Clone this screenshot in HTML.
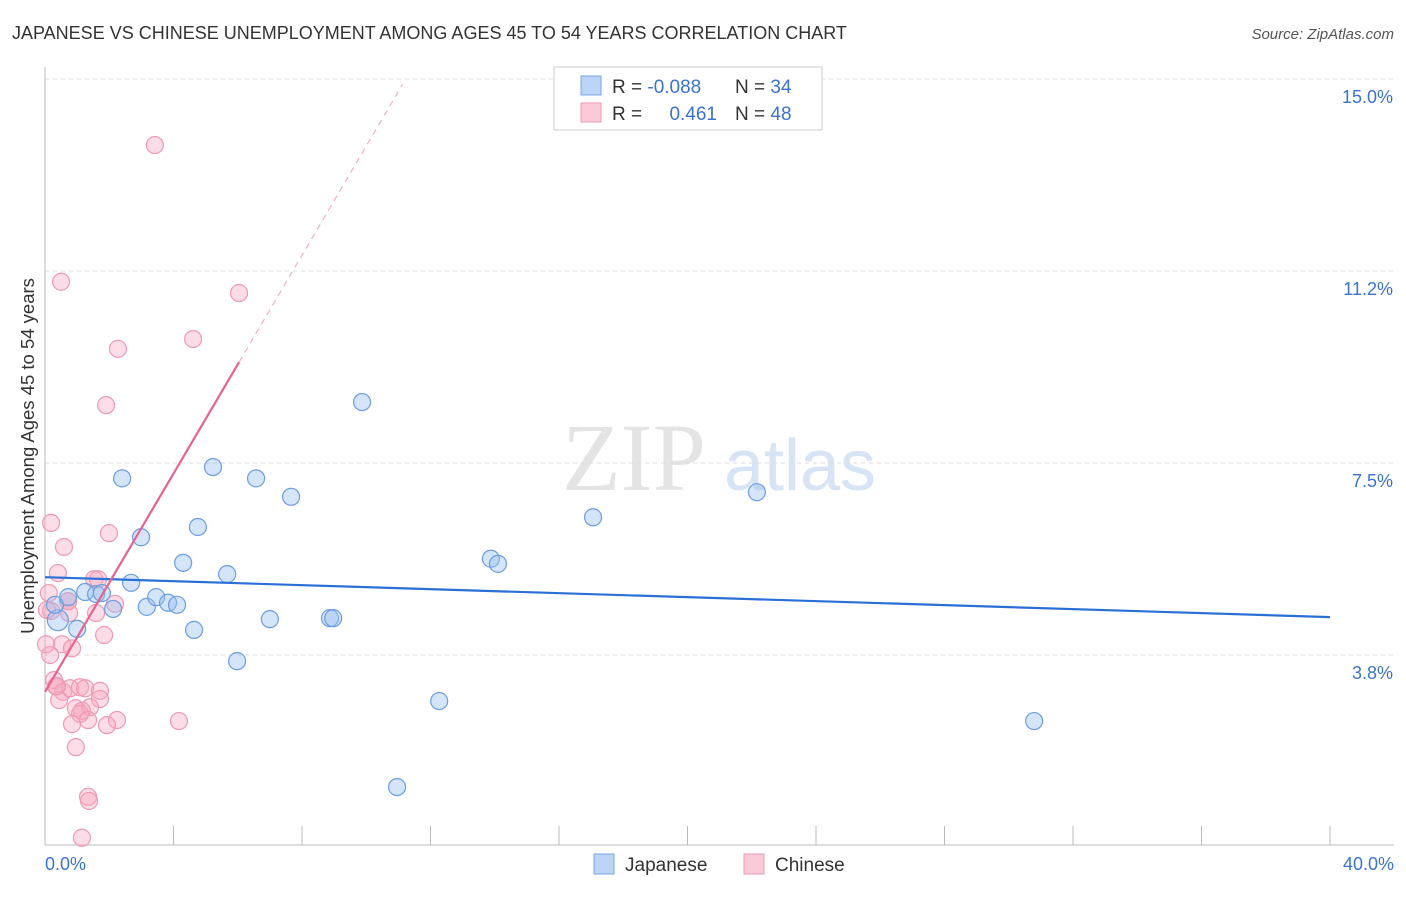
<!DOCTYPE html>
<html><head><meta charset="utf-8"><style>
body{margin:0;background:#fff;font-family:"Liberation Sans",sans-serif}
svg text{font-family:"Liberation Sans",sans-serif}
</style></head><body>
<svg id="c" width="1406" height="892" xmlns="http://www.w3.org/2000/svg">
<text x="12" y="39" font-size="18" fill="#333">JAPANESE VS CHINESE UNEMPLOYMENT AMONG AGES 45 TO 54 YEARS CORRELATION CHART</text>
<text x="1394" y="39" font-size="15" fill="#555" font-style="italic" text-anchor="end">Source: ZipAtlas.com</text>
<text x="634" y="490" font-size="96" fill="#e4e4e4" text-anchor="middle" style="font-family:'Liberation Serif',serif">ZIP</text>
<text x="800" y="490" font-size="72" fill="#d6e4f5" text-anchor="middle">atlas</text>
<g id="grid"></g><g id="axes"></g><g id="pts"></g><g id="trend"></g>
<text transform="translate(34,456) rotate(-90)" font-size="18.5" fill="#333" text-anchor="middle">Unemployment Among Ages 45 to 54 years</text>
<text x="45" y="870" font-size="18" fill="#3b73cc">0.0%</text>
<text x="1394" y="870" font-size="18" fill="#3b73cc" text-anchor="end">40.0%</text>
<g>
<rect x="554" y="67" width="268" height="63" fill="#fff" stroke="#ccc"/>
<rect x="581" y="76" width="20" height="19" fill="#bcd4f5" stroke="#7aa6e6"/>
<rect x="581" y="103" width="20" height="19" fill="#fbcad8" stroke="#ee9ab4"/>
<text x="612" y="93" font-size="19" fill="#333">R = <tspan fill="#3b73cc">-0.088</tspan></text>
<text x="735" y="93" font-size="19" fill="#333">N = <tspan fill="#3b73cc">34</tspan></text>
<text x="612" y="120" font-size="19" fill="#333">R = </text>
<text x="717" y="120" font-size="19" fill="#3b73cc" text-anchor="end">0.461</text>
<text x="735" y="120" font-size="19" fill="#333">N = <tspan fill="#3b73cc">48</tspan></text>
</g>
<g>
<rect x="594" y="854" width="20" height="20" fill="#bcd4f5" stroke="#7aa6e6"/>
<text x="625" y="871" font-size="19" fill="#333">Japanese</text>
<rect x="744" y="854" width="20" height="20" fill="#fbcad8" stroke="#ee9ab4"/>
<text x="775" y="871" font-size="19" fill="#333">Chinese</text>
</g>
</svg>
<script>
const yTicks=[15.0,11.25,7.5,3.75];
const yTickLabels=["15.0%","11.2%","7.5%","3.8%"];
const japX=[0.4,0.31,0.72,1.0,1.25,1.59,1.77,2.12,2.4,2.68,2.99,3.17,3.46,3.83,4.11,4.3,4.64,4.76,5.23,5.67,5.98,6.57,7.0,7.66,8.87,8.97,9.87,10.96,12.27,13.88,14.1,17.06,22.16,30.79];
const japY=[4.43,4.73,4.88,4.26,4.98,4.94,4.96,4.65,7.2,5.16,6.05,4.69,4.88,4.77,4.73,5.55,4.24,6.25,7.42,5.33,3.63,7.2,4.45,6.84,4.47,4.47,8.69,1.17,2.85,5.63,5.53,6.44,6.93,2.46];
const chiX=[3.42,0.5,6.04,4.61,2.27,1.9,0.19,0.59,1.99,0.4,1.53,1.65,0.12,0.72,2.18,1.59,0.19,0.75,1.84,0.53,0.84,0.16,0.28,0.34,0.56,0.78,1.09,1.25,1.71,0.44,1.71,0.96,1.4,1.15,1.09,1.34,0.84,2.24,1.93,4.17,0.96,1.34,1.37,1.15,0.06,0.03,0.72,0.37];
const chiY=[13.71,11.04,10.82,9.92,9.73,8.63,6.33,5.86,6.13,5.35,5.23,5.23,4.96,4.8,4.75,4.57,4.61,4.57,4.14,3.96,3.88,3.75,3.26,3.14,3.03,3.1,3.12,3.1,3.05,2.87,2.89,2.71,2.73,2.66,2.6,2.48,2.4,2.48,2.38,2.46,1.95,0.98,0.9,0.18,4.63,3.96,4.8,3.14];
const japTrend=[5.27,-0.0195];
const chiTrend=[3.03,1.066];
const X=v=>45+v*32.125, Y=v=>847-v*51.2;
const NS="http://www.w3.org/2000/svg";
function mk(t,a,p){const e=document.createElementNS(NS,t);for(const k in a)e.setAttribute(k,a[k]);document.getElementById(p).appendChild(e);return e;}
yTicks.forEach((t,i)=>{
 const l=mk('line',{x1:45,x2:1394,y1:Y(t),y2:Y(t),stroke:'#ddd','stroke-dasharray':'4,4'},'grid');
 
 
 const tx=mk('text',{x:1393,y:Y(t)+24,'font-size':18,fill:'#3b73cc','text-anchor':'end'},'grid');
 tx.textContent=yTickLabels[i];
 
 
});
let a=mk('line',{x1:45,x2:45,y1:67,y2:845,stroke:'#bbb'},'axes');

a=mk('line',{x1:45,x2:1394,y1:845,y2:845,stroke:'#bbb'},'axes');

for(let i=1;i<=10;i++){const t=mk('line',{x1:X(i*4),x2:X(i*4),y1:826,y2:845,stroke:'#bbb'},'axes');
 
 }
chiX.forEach((x,i)=>{const c=mk('circle',{cx:X(x),cy:Y(chiY[i]),r:8.5,fill:'rgba(247,168,192,0.4)',stroke:'#ee9ab4','stroke-width':1.2},'pts');
 
 });
japX.forEach((x,i)=>{const c=mk('circle',{cx:X(x),cy:Y(japY[i]),r:i==0?10.5:8.5,fill:'rgba(150,190,240,0.4)',stroke:'#6b9de0','stroke-width':1.2},'pts');
 
 });
let t=mk('line',{x1:X(0),y1:Y(japTrend[0]),x2:X(40),y2:Y(japTrend[0]+40*japTrend[1]),stroke:'#2a6fd6','stroke-width':2.2},'trend');

t=mk('line',{x1:X(0),y1:Y(chiTrend[0]),x2:X(6.04),y2:Y(chiTrend[0]+6.04*chiTrend[1]),stroke:'#e8628f','stroke-width':2.2},'trend');

const xe=(14.9-chiTrend[0])/chiTrend[1];
t=mk('line',{x1:X(6.04),y1:Y(chiTrend[0]+6.04*chiTrend[1]),x2:X(xe),y2:Y(14.9),stroke:'#eeb0c4','stroke-width':1.2,'stroke-dasharray':'6,5'},'trend');

</script>
</body></html>
